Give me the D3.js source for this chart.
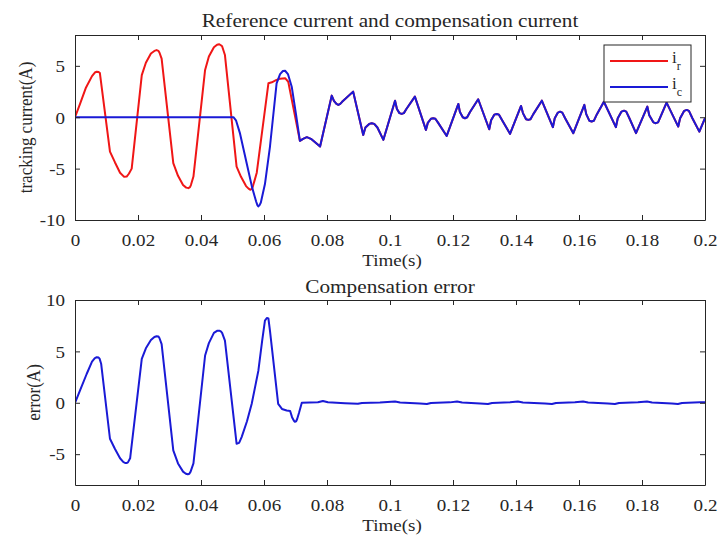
<!DOCTYPE html>
<html>
<head>
<meta charset="utf-8">
<script src="https://cdn.jsdelivr.net/npm/d3@7/dist/d3.min.js"></script>
<style>
html,body{margin:0;padding:0;background:#fff;}
svg{display:block;}
text{font-family:"Liberation Serif","Times New Roman",serif;fill:#262626;}
</style>
</head>
<body>
<script>
// ---------- DATA ----------
const xTicks = [0,0.02,0.04,0.06,0.08,0.1,0.12,0.14,0.16,0.18,0.2];
const xTickLabels = ["0","0.02","0.04","0.06","0.08","0.1","0.12","0.14","0.16","0.18","0.2"];
const topYTicks = [-10,-5,0,5];
const topYTickLabels = ["-10","-5","0","5"];
const botYTicks = [-5,0,5,10];
const botYTickLabels = ["-5","0","5","10"];

// reference current i_r, before it merges with i_c
const irT = [0,0.0016,0.0035,0.0054,0.0063,0.0069,0.0075,0.0079,0.0111,0.0127,0.0143,0.0156,0.0164,0.0171,0.0180,0.0212,0.0225,0.0241,0.0252,0.0259,0.0265,0.0268,0.0275,0.0312,0.0327,0.0343,0.0353,0.0360,0.0365,0.0368,0.0376,0.0413,0.0425,0.0441,0.0451,0.0458,0.0463,0.0467,0.0476,0.0513,0.0527,0.0543,0.0551,0.0557,0.0562,0.0565,0.0577,0.0614,0.0625,0.0638,0.0651,0.0667,0.0677];
const irV = [0,1.3,2.9,4.0,4.35,4.43,4.4,4.3,-3.34,-4.4,-5.4,-5.8,-5.77,-5.5,-5.0,4.1,5.3,6.2,6.45,6.53,6.45,6.3,5.7,-4.47,-5.7,-6.6,-6.85,-6.9,-6.8,-6.6,-5.77,4.6,5.9,6.8,7.05,7.1,7.0,6.9,6.05,-4.8,-5.8,-6.7,-6.95,-7.06,-6.95,-6.7,-5.4,3.3,3.4,3.6,3.75,3.8,3.45];

// compensation current i_c, before steady state
const icT = [0,0.0503,0.0511,0.0524,0.0545,0.0562,0.0575,0.0579,0.0582,0.0586,0.0590,0.0603,0.0619,0.0640,0.0651,0.0660,0.0667,0.0676,0.0688,0.0702];
const icV = [0,0,-0.3,-1.6,-4.47,-6.8,-8.2,-8.55,-8.68,-8.55,-8.3,-6.5,-2.85,3.3,4.2,4.5,4.52,4.2,2.97,0.2];

// steady-state part shared by i_r and i_c (they overlap)
const ssT = [0.0714,0.0724,0.0736,0.0749,0.0765,0.0778,0.0815,0.0822,0.0830,0.0836,0.0842,0.0848,0.0883,0.0915,0.0922,0.0934,0.0942,0.0950,0.0960,0.0979,0.1016,0.1022,0.1030,0.1037,0.1044,0.1052,0.1079,0.1114,0.1120,0.1130,0.1137,0.1144,0.1153,0.1180,0.1217,0.1222,0.1231,0.1238,0.1245,0.1254,0.1280,0.1315,0.1321,0.1331,0.1339,0.1346,0.1356,0.1381,0.1416,0.1422,0.1432,0.1439,0.1446,0.1455,0.1482,0.1517,0.1523,0.1533,0.1540,0.1547,0.1556,0.1582,0.1617,0.1623,0.1633,0.1640,0.1647,0.1657,0.1679,0.1717,0.1723,0.1735,0.1743,0.1750,0.1760,0.1781,0.1817,0.1823,0.1836,0.1844,0.1851,0.1861,0.1878,0.1915,0.1921,0.1934,0.1942,0.1949,0.1960,0.1982,0.2];
const ssV = [-2.3,-2.1,-1.94,-2.1,-2.5,-2.85,2.1,1.6,1.3,1.2,1.3,1.5,2.49,-1.72,-1.0,-0.65,-0.58,-0.65,-1.0,-2.2,1.61,0.8,0.4,0.32,0.4,0.8,2.0,-1.23,-0.55,-0.15,-0.1,-0.15,-0.55,-1.82,1.29,0.5,0.0,-0.1,0.0,0.5,1.75,-1.17,-0.3,0.25,0.32,0.25,-0.3,-1.62,1.1,0.4,-0.2,-0.26,-0.2,0.3,1.61,-0.97,-0.1,0.45,0.54,0.45,-0.1,-1.55,1.2,0.3,-0.35,-0.42,-0.35,0.3,1.51,-0.97,-0.1,0.55,0.64,0.55,-0.1,-1.55,1.03,0.2,-0.5,-0.58,-0.5,0.2,1.42,-0.91,-0.1,0.62,0.71,0.62,-0.1,-1.4,-0.1];

// compensation error
const errT = [0,0.0016,0.0037,0.0054,0.0063,0.0069,0.0075,0.0078,0.0083,0.0111,0.0127,0.0143,0.0153,0.0159,0.0165,0.0168,0.0175,0.0212,0.0225,0.0241,0.0252,0.0259,0.0265,0.0268,0.0275,0.0312,0.0327,0.0343,0.0352,0.0358,0.0363,0.0367,0.0376,0.0413,0.0425,0.0441,0.0451,0.0458,0.0463,0.0467,0.0476,0.0513,0.0521,0.0529,0.0546,0.0561,0.0582,0.0594,0.0603,0.0609,0.0614,0.0619,0.0645,0.0657,0.0672,0.0683,0.0689,0.0695,0.0698,0.0702,0.0705,0.0711,0.0720,0.0771,0.0787,0.0803,0.0857,0.0898,0.0911,0.0968,0.1016,0.1032,0.1095,0.1117,0.1130,0.1190,0.1213,0.1229,0.1286,0.1311,0.1324,0.1381,0.1406,0.1422,0.1492,0.1514,0.1527,0.1587,0.1613,0.1629,0.1692,0.1714,0.1727,0.1787,0.1816,0.1832,0.1895,0.1914,0.1927,0.1984,0.2];
const errV = [0,1.2,2.8,4.0,4.35,4.43,4.4,4.3,3.8,-3.5,-4.5,-5.4,-5.75,-5.86,-5.85,-5.8,-5.4,4.27,5.3,6.1,6.4,6.47,6.45,6.3,5.7,-4.63,-5.9,-6.7,-6.9,-6.96,-6.9,-6.7,-5.9,4.6,5.8,6.8,7.0,7.02,6.95,6.8,6.05,-3.98,-3.9,-3.34,-1.8,-0.1,3.1,6.0,8.0,8.25,8.2,7.0,-0.1,-0.6,-0.75,-0.8,-1.4,-1.75,-1.85,-1.8,-1.6,-1.0,0,0.05,0.18,0.05,-0.05,-0.1,-0.02,0.03,0.12,0.02,-0.06,-0.12,-0.02,0.04,0.13,0.02,-0.06,-0.12,-0.02,0.04,0.12,0.02,-0.06,-0.12,-0.02,0.04,0.12,0.02,-0.06,-0.12,-0.02,0.04,0.12,0.02,-0.06,-0.12,-0.02,0.05,0.05];

const series = {
  ir: irT.concat(ssT).map((t,i)=>({t, v: irV.concat(ssV)[i]})),
  ic: icT.concat(ssT).map((t,i)=>({t, v: icV.concat(ssV)[i]})),
  err: errT.map((t,i)=>({t, v: errV[i]}))
};

// ---------- DRAW ----------
const W = 720, H = 538, SX = 1.12;
const svg = d3.select("body").append("svg").attr("width",W).attr("height",H);
svg.append("rect").attr("width",W).attr("height",H).attr("fill","#fff");

const x = d3.scaleLinear().domain([0,0.2]).range([75,705]);

function panel(top, bottom, yDomain, yTicks, yLabels, title, titleY, ylab, ylabX, timeY, lines) {
  const y = d3.scaleLinear().domain(yDomain).range([bottom, top]);
  const g = svg.append("g");
  const clipId = "c"+top;
  svg.append("clipPath").attr("id",clipId).append("rect")
    .attr("x",75).attr("y",top).attr("width",630).attr("height",bottom-top);

  const line = d3.line().x(d=>x(d.t)).y(d=>y(d.v)).curve(d3.curveLinear);
  lines.forEach(l=>{
    g.append("path").datum(l.data).attr("d",line).attr("fill","none")
      .attr("stroke",l.color).attr("stroke-width",2).attr("stroke-linejoin","round")
      .attr("clip-path",`url(#${clipId})`);
  });

  const ax = (a, tr) => g.append("g").attr("transform",tr).call(a);
  const bottomAx = ax(d3.axisBottom(x).tickValues(xTicks).tickSizeInner(-5).tickSizeOuter(0).tickFormat((d,i)=>xTickLabels[i]), `translate(0,${bottom})`);
  const topAx = ax(d3.axisTop(x).tickValues(xTicks).tickSizeInner(-5).tickSizeOuter(0).tickFormat(""), `translate(0,${top})`);
  const leftAx = ax(d3.axisLeft(y).tickValues(yTicks).tickSizeInner(-5).tickSizeOuter(0).tickFormat((d,i)=>yLabels[i]), `translate(75,0)`);
  const rightAx = ax(d3.axisRight(y).tickValues(yTicks).tickSizeInner(-5).tickSizeOuter(0).tickFormat(""), `translate(705,0)`);
  [bottomAx, topAx, leftAx, rightAx].forEach(a=>{
    a.select(".domain").attr("stroke","#262626").attr("stroke-width",1);
    a.selectAll(".tick line").attr("stroke","#262626");
  });
  bottomAx.selectAll(".tick text").attr("y",26).attr("dy",0)
    .attr("font-size",17).attr("font-family","Liberation Serif, serif").attr("fill","#333")
    .attr("transform",`scale(${SX},1)`);
  leftAx.selectAll(".tick text").attr("x",-10/SX).attr("dy","0.34em")
    .attr("font-size",17).attr("font-family","Liberation Serif, serif").attr("fill","#333")
    .attr("transform",`scale(${SX},1)`);

  svg.append("text").attr("transform",`translate(390,${titleY}) scale(${SX},1)`)
    .attr("text-anchor","middle").attr("font-size",19).text(title);
  svg.append("text").attr("transform",`translate(392,${timeY}) scale(${SX},1)`)
    .attr("text-anchor","middle").attr("font-size",17).attr("fill","#333").text("Time(s)");
  svg.append("text").attr("transform",`translate(${ylabX},${(top+bottom)/2}) scale(${SX},1) rotate(-90)`)
    .attr("text-anchor","middle").attr("dominant-baseline","central")
    .attr("font-size",17).attr("fill","#333").text(ylab);
  return y;
}

panel(35, 220, [-10,8], topYTicks, topYTickLabels, "Reference current and compensation current", 27,
  "tracking current(A)", 26, 266,
  [{data:series.ir, color:"#f01616"},{data:series.ic, color:"#1a1ad6"}]);

panel(300, 485, [-8,10], botYTicks, botYTickLabels, "Compensation error", 293,
  "error(A)", 34, 531,
  [{data:series.err, color:"#1a1ad6"}]);

// legend
const lg = svg.append("g");
lg.append("rect").attr("x",604).attr("y",45).attr("width",87).attr("height",57)
  .attr("fill","#fff").attr("stroke","#262626").attr("stroke-width",1);
const legendItems = [{name:"r", color:"#f01616", y:61},{name:"c", color:"#1a1ad6", y:87}];
legendItems.forEach(it=>{
  lg.append("line").attr("x1",610).attr("x2",668).attr("y1",it.y).attr("y2",it.y)
    .attr("stroke",it.color).attr("stroke-width",2);
  const t = lg.append("text").attr("x",672).attr("y",it.y+2).attr("font-size",17).attr("fill","#333");
  t.append("tspan").text("i");
  t.append("tspan").attr("dy",7).attr("font-size",12).text(it.name);
});
</script>
</body>
</html>
